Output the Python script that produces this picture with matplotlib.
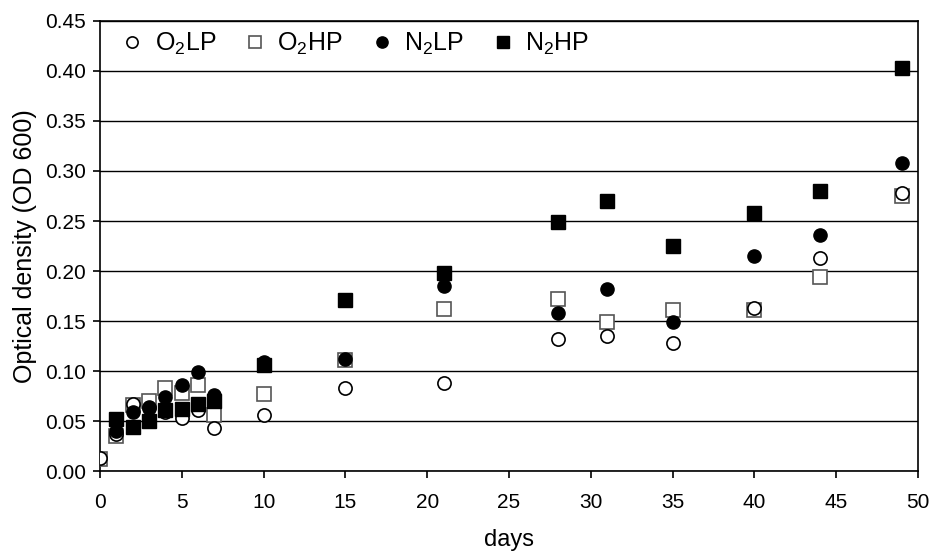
import matplotlib
matplotlib.use("Agg")
import matplotlib.pyplot as plt

plt.rcParams["font.family"] = ["Liberation Sans", "DejaVu Sans"]
plt.rcParams["mathtext.fontset"] = "custom"
plt.rcParams["mathtext.rm"] = "Liberation Sans"

days_o2 = [0, 1, 2, 3, 4, 5, 6, 7, 10, 15, 21, 28, 31, 35, 40, 44, 49]
o2lp = [0.013, 0.037, 0.067, 0.063, 0.059, 0.053, 0.061, 0.043, 0.056,
        0.083, 0.088, 0.132, 0.135, 0.128, 0.163, 0.213, 0.278]
o2hp = [0.012, 0.035, 0.066, 0.070, 0.083, 0.078, 0.086, 0.056, 0.077,
        0.111, 0.162, 0.172, 0.149, 0.161, 0.161, 0.194, 0.275]

days_n2 = [1, 2, 3, 4, 5, 6, 7, 10, 15, 21, 28, 31, 35, 40, 44, 49]
n2lp = [0.040, 0.059, 0.064, 0.074, 0.086, 0.099, 0.076, 0.109,
        0.112, 0.185, 0.158, 0.182, 0.149, 0.215, 0.236, 0.308]
n2hp = [0.052, 0.044, 0.050, 0.061, 0.062, 0.067, 0.070, 0.106,
        0.171, 0.198, 0.249, 0.270, 0.225, 0.258, 0.280, 0.403]

fig = plt.figure(figsize=(9.34, 5.51), dpi=100)
ax = fig.add_axes([0.107, 0.145, 0.876, 0.817])

ms = 9.5
ax.plot(days_o2, o2hp, "s", ms=ms, mfc="white", mec="#555555", mew=1.2,
        label=r"O$_\mathregular{2}$HP", zorder=3)
ax.plot(days_o2, o2lp, "o", ms=ms, mfc="white", mec="black", mew=1.2,
        label=r"O$_\mathregular{2}$LP", zorder=4)
ax.plot(days_n2, n2hp, "s", ms=ms, mfc="black", mec="black",
        label=r"N$_\mathregular{2}$HP", zorder=5)
ax.plot(days_n2, n2lp, "o", ms=ms, mfc="black", mec="black",
        label=r"N$_\mathregular{2}$LP", zorder=6)

ax.set_xlim(0, 50)
ax.set_ylim(0, 0.45)
ax.set_xticks(range(0, 51, 5))
ax.set_yticks([i * 0.05 for i in range(10)])
ax.set_yticklabels([f"{i * 0.05:.2f}" for i in range(10)])
ax.yaxis.grid(True, color="black", linewidth=1)
ax.set_axisbelow(True)
for s in ax.spines.values():
    s.set_linewidth(1.2)
ax.tick_params(direction="out", length=5, width=1.2, labelsize=15)
ax.tick_params(axis="x", pad=11)
ax.tick_params(axis="y", pad=5)

ax.set_xlabel("days", fontsize=17, labelpad=12)
ax.set_ylabel("Optical density (OD 600)", fontsize=18, labelpad=6)

h, l = ax.get_legend_handles_labels()
order = [1, 0, 3, 2]
ax.legend([h[i] for i in order], [l[i] for i in order], loc="upper left",
          bbox_to_anchor=(0.012, 1.0),
          ncol=4, frameon=False, fontsize=18, markerscale=0.85,
          handletextpad=0.4, columnspacing=1.05, handlelength=1.0,
          borderaxespad=0.0, borderpad=0.4)

fig.savefig("out.png", dpi=100)
